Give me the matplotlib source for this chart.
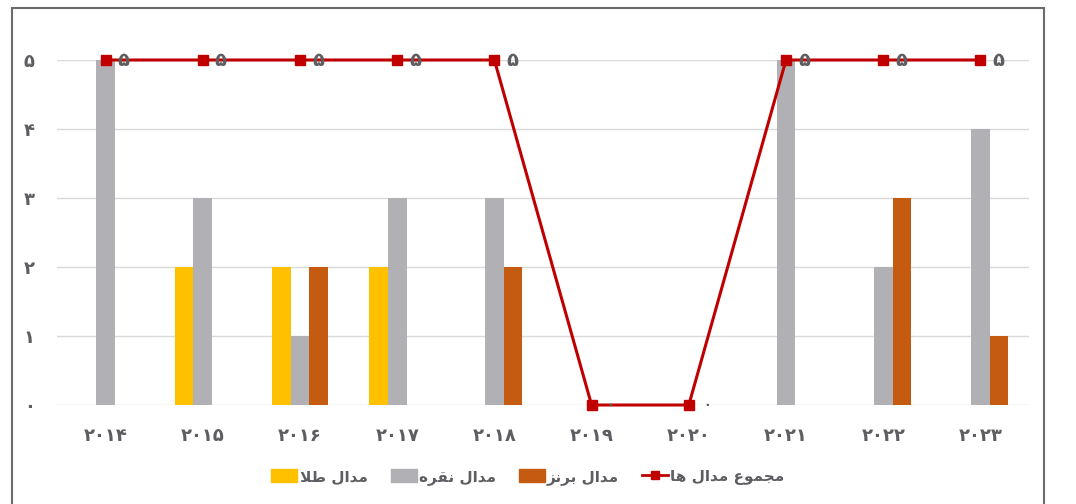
import numpy as np
import matplotlib
matplotlib.use("Agg")
import matplotlib.pyplot as plt
from matplotlib.patches import Rectangle
from matplotlib.lines import Line2D

# Persian digits and shaped (visual order) Persian labels
years = ["۲۰۱۴", "۲۰۱۵", "۲۰۱۶", "۲۰۱۷", "۲۰۱۸", "۲۰۱۹", "۲۰۲۰", "۲۰۲۱", "۲۰۲۲", "۲۰۲۳"]
ytick_labels = ["۰", "۱", "۲", "۳", "۴", "۵"]
fa_digits = "۰۱۲۳۴۵۶۷۸۹"

gold = [0, 2, 2, 2, 0, 0, 0, 0, 0, 0]
silver = [5, 3, 1, 3, 3, 0, 0, 5, 2, 4]
bronze = [0, 0, 2, 0, 2, 0, 0, 0, 3, 1]
total = [5, 5, 5, 5, 5, 0, 0, 5, 5, 5]

# مدال طلا / مدال نقره / مدال برنز / مجموع مدال ها (presentation forms, visual order)
lbl_gold = "\uFEFC\uFEC3 \uFEDD\uFE8D\uFEAA\uFEE3"
lbl_silver = "\uFEE9\uFEAE\uFED8\uFEE7 \uFEDD\uFE8D\uFEAA\uFEE3"
lbl_bronze = "\uFEB0\uFEE7\uFEAE\uFE91 \uFEDD\uFE8D\uFEAA\uFEE3"
lbl_total = "\uFE8E\uFEEB \uFEDD\uFE8D\uFEAA\uFEE3 \uFEC9\uFEEE\uFEE4\uFEA0\uFEE3"

c_gold = "#FFC000"
c_silver = "#B1B1B5"
c_bronze = "#C55A11"
c_line = "#C00000"
c_text = "#5E5E62"

plt.rcParams['font.family'] = ['DejaVu Sans']

fig = plt.figure(figsize=(10.76, 5.04), dpi=100)
ax = fig.add_axes([57 / 1076, 99 / 504, 972 / 1076, 345 / 504])

x = np.arange(len(years))
w = 0.192
ax.bar(x - w, gold, w, color=c_gold, zorder=2)
ax.bar(x, silver, w, color=c_silver, zorder=2)
ax.bar(x + w, bronze, w, color=c_bronze, zorder=2)
ax.plot(x, total, color=c_line, lw=2.2, marker="s", ms=6.5, zorder=3, clip_on=False)

for xi, v in zip(x, total):
    ax.annotate(fa_digits[v], (xi, v), xytext=(13, 0), textcoords="offset points",
                ha="center", va="center", color=c_text, zorder=5,
                fontsize=14 if v else 9, fontweight="bold")

ax.set_xlim(-0.5, len(years) - 0.5)
ax.set_ylim(0, 5)
ax.set_yticks(range(6))
ax.set_yticklabels(ytick_labels)
ax.set_xticks(x)
ax.set_xticklabels(years)
ax.grid(axis="y", color="#D9D9D9", lw=1, zorder=0)
for s in ax.spines.values():
    s.set_visible(False)
ax.tick_params(length=0, colors=c_text, labelsize=13)
ax.tick_params(axis="y", pad=16)
ax.tick_params(axis="x", pad=16)
for t in ax.get_xticklabels() + ax.get_yticklabels():
    t.set_fontweight("bold")

handles = [Rectangle((0, 0), 1, 1, color=c_gold),
           Rectangle((0, 0), 1, 1, color=c_silver),
           Rectangle((0, 0), 1, 1, color=c_bronze),
           Line2D([0], [0], color=c_line, lw=2, marker="s", ms=5.5)]
leg = fig.legend(handles, [lbl_gold, lbl_silver, lbl_bronze, lbl_total],
                 loc="center", bbox_to_anchor=(528 / 1076, 27 / 504), ncol=4,
                 frameon=False, handlelength=1.7, handleheight=0.9,
                 handletextpad=0.15, columnspacing=1.5,
                 prop={"weight": "bold", "size": 11})
for t in leg.get_texts():
    t.set_color(c_text)

# outer frame
fig.patches.append(Rectangle((12 / 1076, -0.05), (1044 - 12) / 1076, (504 - 8) / 504 + 0.05,
                             transform=fig.transFigure, fill=False,
                             edgecolor="#6B6B6B", lw=1.5, zorder=0))

fig.savefig("out.png", dpi=100)
